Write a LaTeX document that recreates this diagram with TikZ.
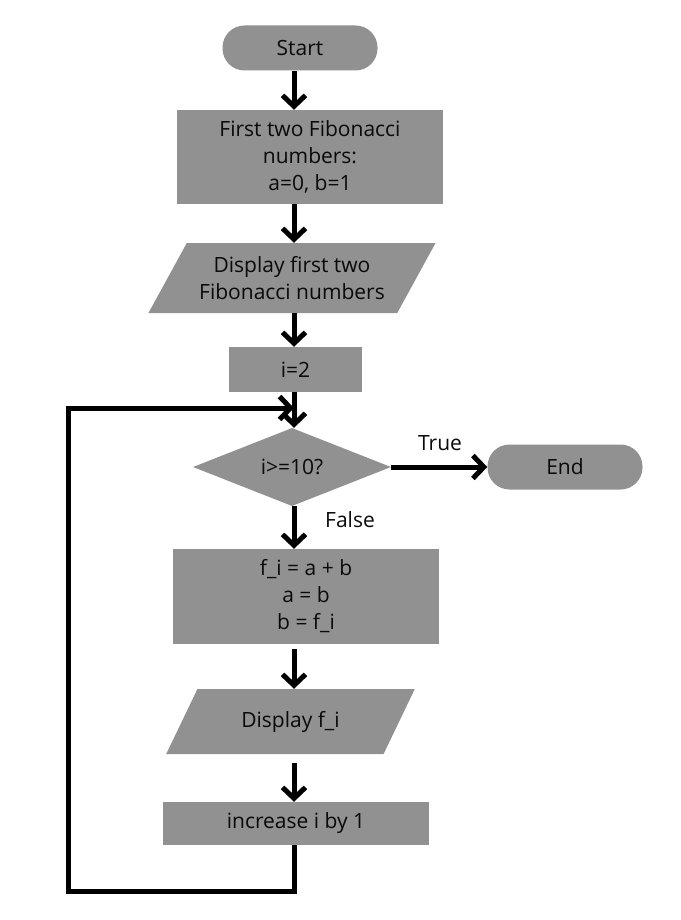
\documentclass[tikz,border=0pt]{standalone}
\usepackage{fontspec}
\setmainfont{Open Sans}
\usepackage{tikz}
\usetikzlibrary{arrows.meta,shapes.geometric,calc}

\definecolor{boxgray}{RGB}{145,145,145}
\definecolor{inkblack}{RGB}{10,10,10}

\tikzset{
    base/.style={fill=boxgray, draw=none, text=inkblack, align=center,
        inner sep=0pt, font=\fontsize{21}{27}\selectfont},
    terminal/.style={base, rectangle, rounded corners=22pt,
        minimum width=155pt, minimum height=45pt},
    process/.style={base, rectangle, minimum width=266pt},
    io/.style={base, trapezium, trapezium left angle=52,
        trapezium right angle=128, trapezium stretches=true},
    decision/.style={base, diamond, minimum width=198pt, minimum height=75pt},
    label/.style={text=inkblack, inner sep=0pt, font=\fontsize{21}{27}\selectfont},
    flow/.style={line width=5pt, -{Straight Barb[length=11pt,width=23pt]}}
}

\begin{document}
\begin{tikzpicture}[x=1pt, y=-1pt]

    %% Background
    \useasboundingbox (0,0) rectangle (680,920);

    % Blocks
    \node[terminal] (start) at (300,48) {Start};
    \node[process, minimum height=94pt] (fib) at (310,157)
        {First two Fibonacci\\numbers:\\a=0, b=1};
    \node[io, minimum width=288pt, minimum height=70pt] (show) at (292,278)
        {Display first two\\Fibonacci numbers};
    \node[process, minimum width=133pt, minimum height=45pt] (init) at (295.5,369.5) {i=2};
    \node[decision] (test) at (292,467) {i>=10?};
    \node[terminal] (end) at (565,467) {End};
    \node[process, minimum height=95pt] (step) at (306,596.5)
        {f\_i = a + b\\a = b\\b = f\_i};
    \node[io, minimum width=249pt, minimum height=65pt] (showf) at (290.5,721.5)
        {Display f\_i};
    \node[process, minimum height=43pt] (inc) at (296,823.5) {increase i by 1};

    % Labels
    \node[label] (truelbl) at (440,443) {True};
    \node[label] (falselbl) at (350,520) {False};

    % Spine and loop points
    \coordinate (spine) at (294,0);
    \coordinate (loopin) at (294,408);
    \coordinate (loopcorner) at (68,891);

    % Arrows
    \draw[flow] (start.south -| spine) -- (fib.north -| spine);
    \draw[flow] (fib.south -| spine) -- (show.north -| spine);
    \draw[flow] (show.south -| spine) -- (init.north -| spine);
    \draw[flow] (init.south -| spine) -- (test.north -| spine);
    \draw[flow] (test.east) -- (end.west);
    \draw[flow] (test.south -| spine) -- (step.north -| spine);
    \draw[flow] ($(step.south -| spine)+(0,5)$) -- (showf.north -| spine);
    \draw[flow] ($(showf.south -| spine)+(0,9)$) -- (inc.north -| spine);

    %Loop
    \draw[flow] (inc.south -| spine) |- (loopcorner) |- (loopin);

\end{tikzpicture}
\end{document}
